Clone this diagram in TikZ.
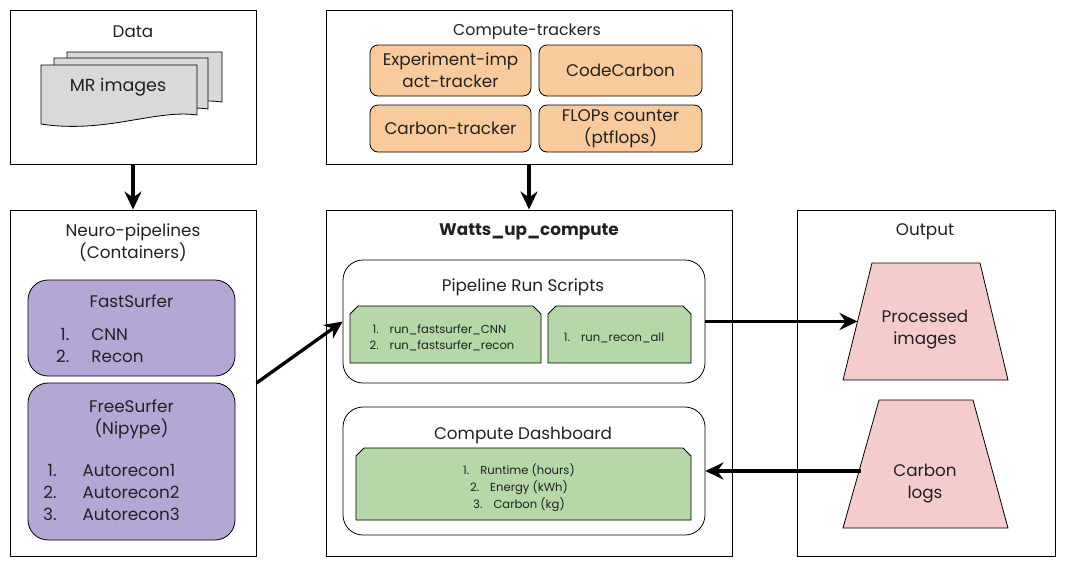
\documentclass[tikz,border=0pt]{standalone}
\usepackage{fontspec}
\setmainfont{Poppins}
\usetikzlibrary{arrows.meta}
\definecolor{orangef}{HTML}{F9CB9C}
\definecolor{purplef}{HTML}{B4A7D6}
\definecolor{greenf}{HTML}{B6D7A8}
\definecolor{pinkf}{HTML}{F4CCCC}
\definecolor{grayf}{HTML}{D9D9D9}
\definecolor{txt}{HTML}{222222}
\tikzset{
  big/.style={font=\fontsize{16.8}{22}\selectfont, text=txt, align=center, inner sep=0pt},
  small/.style={font=\fontsize{11.6}{16}\selectfont, text=txt, align=center, inner sep=0pt},
  outerbox/.style={draw, line width=1pt, fill=white, inner sep=0pt},
  orangebox/.style={draw, line width=0.8pt, fill=orangef, rounded corners=8pt, inner sep=0pt,
     minimum height=#1, font=\fontsize{16.8}{22}\selectfont, text=txt, align=center},
  purplebox/.style={draw, line width=0.8pt, fill=purplef, rounded corners=20pt, inner sep=0pt, minimum width=207pt},
  roundbox/.style={draw, line width=0.8pt, fill=white, rounded corners=20pt, inner sep=0pt, minimum width=362pt},
  greenpath/.style={draw, line width=0.8pt, fill=greenf},
  pinkpath/.style={draw, line width=0.8pt, fill=pinkf},
  docpath/.style={draw, line width=0.8pt, fill=grayf},
  arr/.style={line width=3.3pt, -{Stealth[length=18pt,width=17pt,inset=6pt]}}
}
\begin{document}
\begin{tikzpicture}[x=1pt,y=-1pt]
\useasboundingbox (0,0) rectangle (1070,571);

% outer boxes
\node[outerbox, minimum width=246pt, minimum height=154pt] (data) at (133,87) {};
\node[outerbox, minimum width=406pt, minimum height=154pt] (trackers) at (529,87) {};
\node[outerbox, minimum width=246pt, minimum height=346pt] (neuro) at (133,383) {};
\node[outerbox, minimum width=406pt, minimum height=346pt] (watts) at (529,383) {};
\node[outerbox, minimum width=258pt, minimum height=346pt] (output) at (926,383) {};

% titles
\node[big] (datat) at (133,31.5) {Data};
\node[big, font=\fontsize{15.8}{22}\selectfont] (trackt) at (527,31.5) {Compute-trackers};
\node[big] (neurot) at (133,242.5) {Neuro-pipelines\\(Containers)};
\node[big, font=\fontsize{16.8}{22}\selectfont\bfseries] (wattst) at (529,231.5) {Watts\_up\_compute};
\node[big] (outt) at (925,231.5) {Output};

% document stack
\path[docpath] (67,52) -- (222,52) -- (222,102) .. controls (180,96) and (130,118) .. (67,111) -- cycle;
\path[docpath] (54,58) -- (208,58) -- (208,109) .. controls (168,103) and (118,126) .. (54,118) -- cycle;
\path[docpath] (41,65) -- (197,65) -- (197,115) .. controls (156,109) and (105,134) .. (41,124) -- cycle;
\node[big, font=\fontsize{17.5}{22}\selectfont] (mr) at (118,87) {MR images};

% trackers
\node[orangebox=51pt, minimum width=161pt] (eit) at (450.5,70.5) {Experiment-imp\\act-tracker};
\node[orangebox=51pt, minimum width=163pt] (cc) at (620.5,70.5) {CodeCarbon};
\node[orangebox=47pt, minimum width=161pt] (ct) at (450.5,128.5) {Carbon-tracker};
\node[orangebox=47pt, minimum width=163pt] (flops) at (620.5,128.5) {FLOPs counter\\(ptflops)};

% neuro pipelines
\node[purplebox, minimum height=96pt] (fast) at (131.5,328) {};
\node[big] (fastt) at (131.5,301.5) {FastSurfer};
\node[big, anchor=west] (fastl) at (56,347) {\begin{tabular}{@{}r@{\hspace{22pt}}l@{}}1.&CNN\\2.&Recon\end{tabular}};
\node[purplebox, minimum height=157pt] (free) at (131.5,461.5) {};
\node[big] (freet) at (131.5,419) {FreeSurfer\\(Nipype)};
\node[big, anchor=west] (freel) at (43,494) {\begin{tabular}{@{}r@{\hspace{26pt}}l@{}}1.&Autorecon1\\2.&Autorecon2\\3.&Autorecon3\end{tabular}};

% watts up compute
\node[roundbox, minimum height=123pt] (run) at (524,321.5) {};
\node[big] (runt) at (523,287.5) {Pipeline Run Scripts};
\path[greenpath] (350,363) -- (350,314) -- (358,306) -- (533,306) -- (541,314) -- (541,363) -- cycle;
\path[greenpath] (548,363) -- (548,314) -- (556,306) -- (683,306) -- (691,314) -- (691,363) -- cycle;
\node[small] (fsl) at (442,338) {\begin{tabular}{@{}r@{\hspace{11pt}}l@{}}1.&run\_fastsurfer\_CNN\\2.&run\_fastsurfer\_recon\end{tabular}};
\node[small] (rrl) at (614,338) {1.\hspace{11pt}run\_recon\_all};

\node[roundbox, minimum height=128pt] (dash) at (524,471) {};
\node[big] (dasht) at (523,435.5) {Compute Dashboard};
\path[greenpath] (356,520) -- (356,456) -- (364,448) -- (683,448) -- (691,456) -- (691,520) -- cycle;
\node[small, font=\fontsize{11.6}{17}\selectfont] (dashl) at (519,487.5) {1.\hspace{11pt}Runtime (hours)\\2.\hspace{11pt}Energy (kWh)\\3.\hspace{11pt}Carbon (kg)};

% output
\path[pinkpath] (843,380) -- (872,263) -- (980,263) -- (1008,380) -- cycle;
\node[big] (proc) at (925,330) {Processed\\images};
\coordinate (procW) at (857.5,321.5);
\path[pinkpath] (843,528) -- (879,400) -- (973,400) -- (1008,528) -- cycle;
\node[big] (logs) at (925,484) {Carbon\\logs};
\coordinate (logsW) at (861,464);

% arrows
\draw[arr] (data.south) -- (neuro.north);
\draw[arr] (trackers.south) -- (watts.north);
\draw[arr] (neuro.east) -- (run.west);
\draw[arr] (run.east) -- (procW);
\draw[arr] (dash.east -| logsW) -- (dash.east);
\end{tikzpicture}
\end{document}
